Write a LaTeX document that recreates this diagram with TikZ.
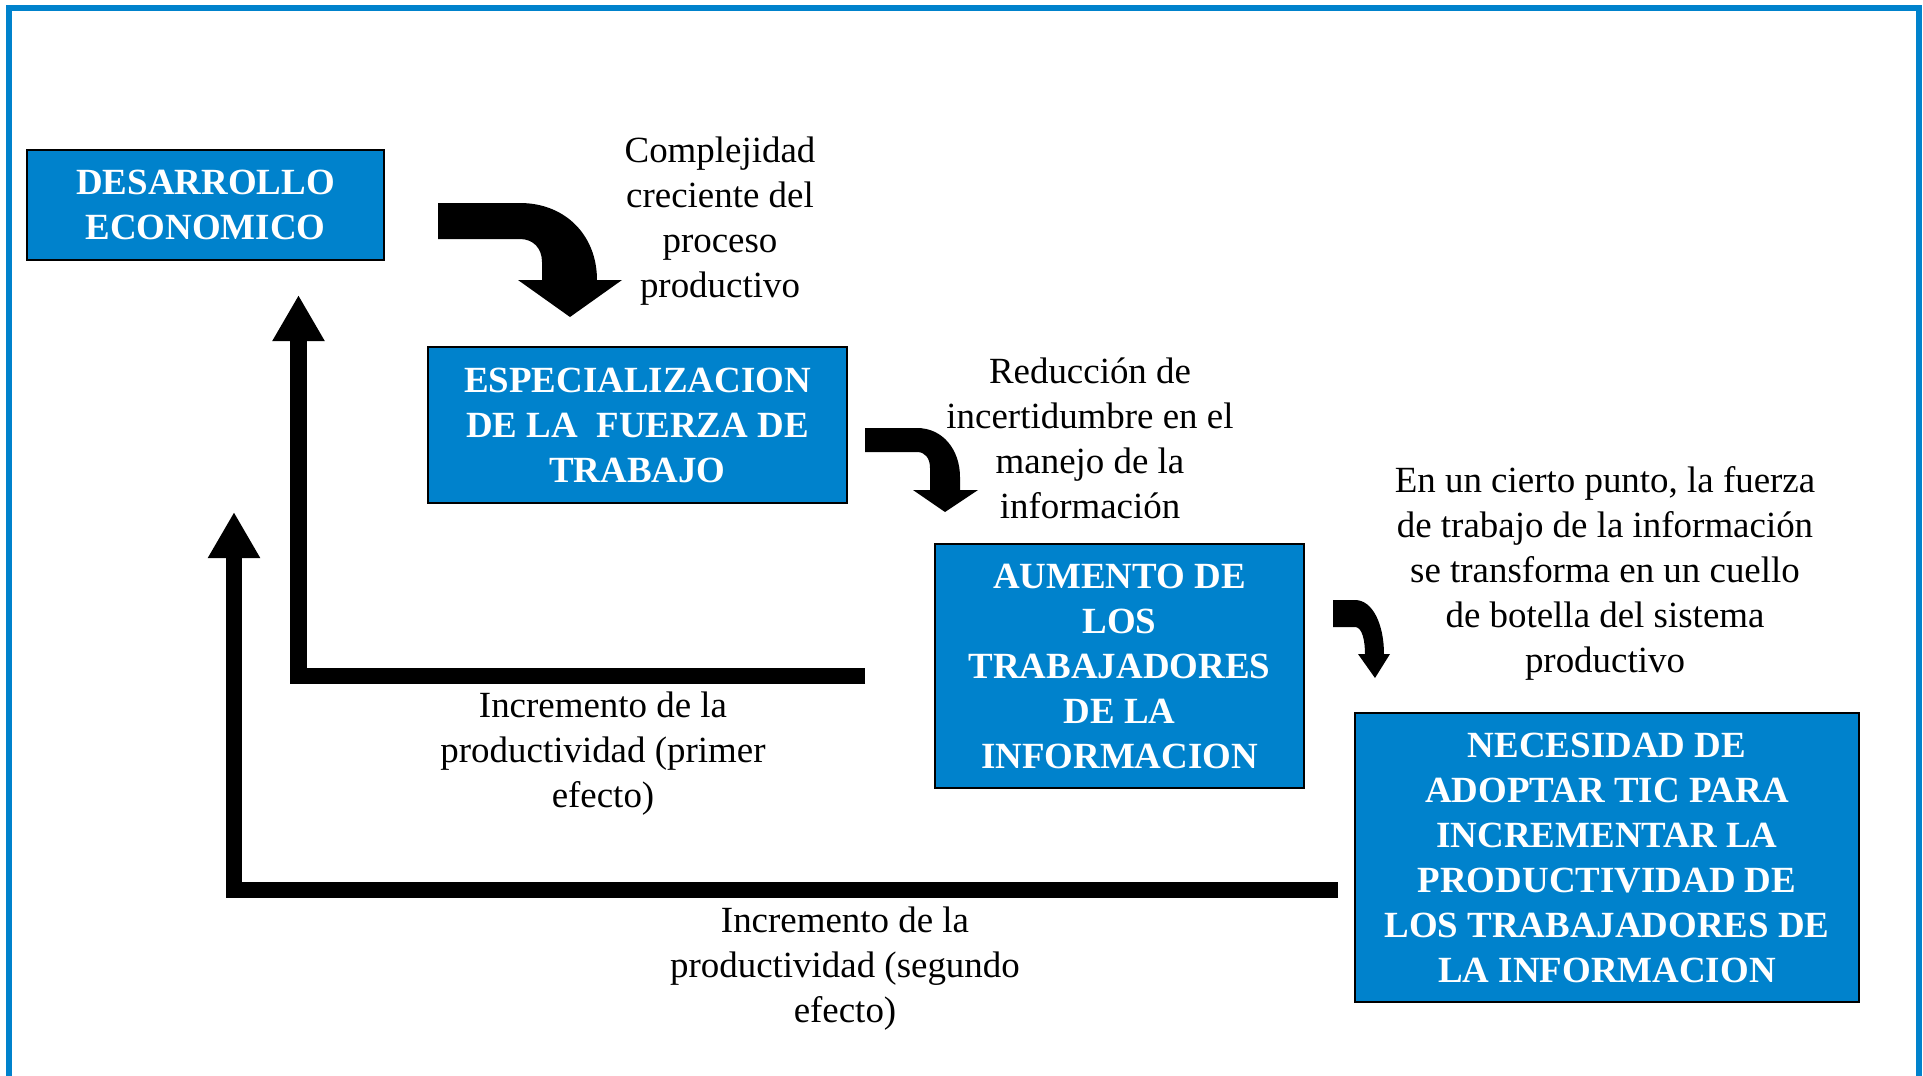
\documentclass[tikz,border=0pt]{standalone}
\usepackage{fontspec}
\setmainfont{Liberation Serif}
\usetikzlibrary{arrows.meta}

\definecolor{azul}{RGB}{0,130,204}

\tikzset{
  caja/.style={draw=black, line width=0.6pt, fill=azul, text=white, inner sep=0pt,
    font=\bfseries\fontsize{10.5}{12.8}\selectfont, align=center},
  nota/.style={inner sep=0pt, font=\fontsize{10.5}{12.8}\selectfont, align=center},
  retro/.style={line width=0.16cm, line join=miter, -{Triangle[width=0.49cm,length=0.46cm]}}
}

\begin{document}
\begin{tikzpicture}[x=0.01cm, y=-0.01cm]
  \useasboundingbox (0,0) rectangle (1923,1075);
  \draw[azul, line width=0.06cm] (9,8) rectangle (1919,1200);

  \node[caja, minimum width=3.57cm, minimum height=1.10cm] (desarrollo) at (205.5,205) {DESARROLLO\\ECONOMICO};
  \node[caja, minimum width=4.19cm, minimum height=1.56cm] (especial) at (637.5,425) {ESPECIALIZACION\\DE LA~ FUERZA DE\\TRABAJO};
  \node[caja, minimum width=3.69cm, minimum height=2.44cm] (aumento) at (1119.5,666) {AUMENTO DE\\LOS\\TRABAJADORES\\DE LA\\INFORMACION};
  \node[caja, minimum width=5.04cm, minimum height=2.89cm] (necesidad) at (1607,857.5) {NECESIDAD DE\\ADOPTAR TIC PARA\\INCREMENTAR LA\\PRODUCTIVIDAD DE\\LOS TRABAJADORES DE\\LA INFORMACION};

  \node[nota] (complejidad) at (720,221) {Complejidad\\creciente del\\proceso\\productivo};
  \node[nota] (reduccion) at (1090,438) {Reducción de\\incertidumbre en el\\manejo de la\\información};
  \node[nota] (cuello) at (1605,573) {En un cierto punto, la fuerza\\de trabajo de la información\\se transforma en un cuello\\de botella del sistema\\productivo};
  \node[nota] (primer) at (603,754) {Incremento de la\\productividad (primer\\efecto)};
  \node[nota] (segundo) at (845,969) {Incremento de la\\productividad (segundo\\efecto)};

  \fill (438,203) -- (520,203) .. controls (565,203) and (597,235) .. (597,280) -- (622,280)
    -- (570,317) -- (518,280) -- (542,280) -- (542,262) .. controls (542,248) and (533,239) .. (520,239)
    -- (438,239) -- cycle;
  \fill (865,428) -- (917,428) .. controls (943,428) and (960,450) .. (960,477) -- (960,490) -- (978,490)
    -- (945,512) -- (913,490) -- (930,490) -- (930,468) .. controls (930,458) and (925,452) .. (917,452)
    -- (865,452) -- cycle;
  \fill (1333,600) -- (1355,600) .. controls (1373,600) and (1384,625) .. (1384,654) -- (1390,654)
    -- (1375,678) -- (1358,654) -- (1365,654) .. controls (1365,640) and (1362,627) .. (1355,627)
    -- (1333,627) -- cycle;

  \coordinate (ini1) at (865,675.5);
  \coordinate (fin1) at (298.5,295);
  \coordinate (ini2) at (1338,890);
  \coordinate (fin2) at (234,512);
  \draw[retro] (ini1) -| (fin1);
  \draw[retro] (ini2) -| (fin2);
\end{tikzpicture}
\end{document}
